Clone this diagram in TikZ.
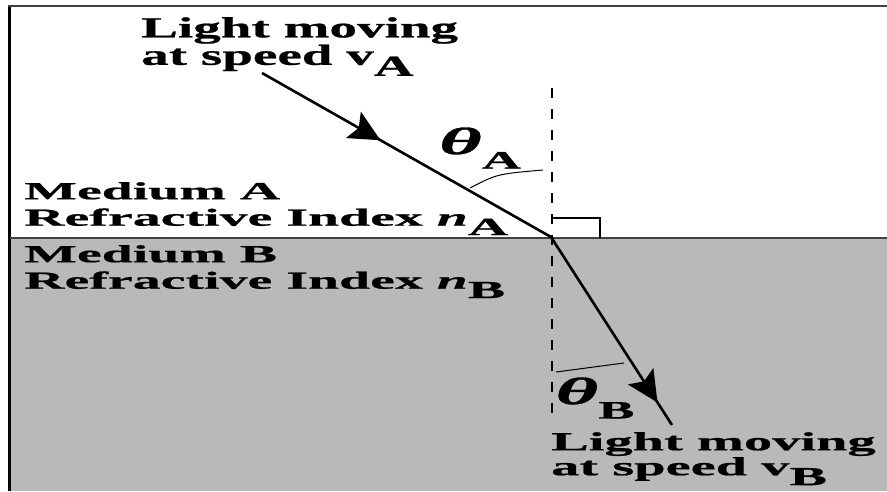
\documentclass[tikz,border=0pt]{standalone}
\usepackage{fontspec}
\setmainfont{Liberation Serif}
\newfontfamily\topfont[FakeStretch=1.9, FakeBold=0.8]{Liberation Serif}
\newfontfamily\medfont[FakeStretch=2.28, FakeBold=0.8]{Liberation Serif}
\newfontfamily\botfont[FakeStretch=2.17, FakeBold=0.8]{Liberation Serif}
\usetikzlibrary{arrows.meta, decorations.markings}
\definecolor{MediumGray}{RGB}{185, 185, 185}
\definecolor{FrameGray}{RGB}{64, 64, 64}
\newcommand{\lowsub}[1]{\raisebox{-0.38em}{#1}}

\begin{document}
\begin{tikzpicture}[x=1pt, y=-1pt,
    ray/.style={line width=2.6pt, decoration={markings,
        mark=at position #1 with {\arrow{Stealth[length=31pt, width=30pt, inset=6pt]}}},
        postaction={decorate}},
    normal/.style={line width=2.8pt, dash pattern=on 10pt off 11pt},
    arcline/.style={line width=1pt},
    lbl/.style={anchor=north west, inner sep=0pt, align=left},
    toplbl/.style={lbl, font={\fontsize{29}{23}\topfont\bfseries}},
    medlbl/.style={lbl, font={\fontsize{24.5}{26.5}\medfont\bfseries}},
    botlbl/.style={lbl, font={\fontsize{26}{25}\botfont\bfseries}},
    thlbl/.style={inner sep=0pt, font={\fontsize{38}{38}\botfont\bfseries}}]
    \useasboundingbox (0,0) rectangle (887,491);
    % Medium B below the boundary, frame round the picture
    \fill[MediumGray] (10,238) rectangle (887,491);
    \draw[line width=3pt] (9,491) -- (9,6);
    \draw[FrameGray, line width=2pt] (8,6) -- (887,6);
    \draw[FrameGray, line width=2pt] (10,238) -- (887,238);
    % Normal and right angle mark
    \coordinate (ntop) at (552,88);
    \coordinate (nbot) at (552,418);
    \draw[normal] (ntop) -- (nbot);
    \draw[line width=1.5pt] (553,218) -| (600,238);
    % Incident and refracted rays
    \coordinate (src) at (262,73);
    \coordinate (hit) at (551,237);
    \coordinate (dst) at (672,425);
    \draw[ray=0.41] (src) -- (hit);
    \draw[ray=0.88] (hit) -- (dst);
    % Angle marks
    \draw[arcline] (470,188) .. controls (497,174) .. (543,170);
    \draw[arcline] (556,372) .. controls (590,367) .. (624,363);
    \node[thlbl] (thA) at (480,148) {{\itshape θ}\lowsub{\fontsize{25}{25}\selectfont A}};
    \node[thlbl] (thB) at (595,398) {{\itshape θ}\lowsub{\fontsize{25}{25}\selectfont B}};
    % Labels
    \node[toplbl] (lightA) at (141,17) {Light moving\\at speed v\lowsub{A}};
    \node[medlbl] (medA) at (24,182) {Medium A\\Refractive Index {\itshape n}\lowsub{A}};
    \node[medlbl] (medB) at (24,245) {Medium B\\Refractive Index {\itshape n}\lowsub{B}};
    \node[botlbl] (lightB) at (551,432) {Light moving\\at speed v\lowsub{B}};
\end{tikzpicture}
\end{document}
